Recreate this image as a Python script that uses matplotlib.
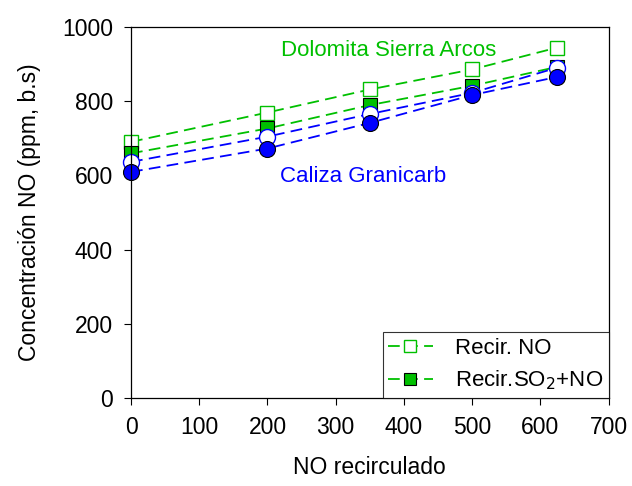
import matplotlib
matplotlib.use("Agg")
import matplotlib.pyplot as plt

plt.rcParams['font.family'] = ['Liberation Sans', 'DejaVu Sans']

x = [0, 200, 350, 500, 625]
dolo_no = [690, 769, 831, 885, 944]
dolo_so2no = [659, 726, 789, 841, 892]
cal_no = [636, 704, 765, 822, 890]
cal_so2no = [609, 672, 741, 816, 865]

green = "#00c000"
blue = "#0000ff"
dash = (0, (6.5, 3.5))

fig = plt.figure(figsize=(6.32, 4.86), dpi=100)
ax = fig.add_axes([0.2073, 0.181, 0.7557, 0.764])

l1, = ax.plot(x, dolo_no, ls=dash, color=green, lw=1.3, marker="s", ms=10,
              mfc="white", mec=green, mew=1.0, label="Recir. NO", clip_on=False)
l2, = ax.plot(x, dolo_so2no, ls=dash, color=green, lw=1.3, marker="s", ms=10,
              mfc=green, mec="black", mew=0.8, label="Recir.SO$_2$+NO", clip_on=False)
ax.plot(x, cal_no, ls=dash, color=blue, lw=1.3, marker="o", ms=11.5,
        mfc="white", mec=blue, mew=1.0, clip_on=False)
ax.plot(x, cal_so2no, ls=dash, color=blue, lw=1.3, marker="o", ms=11.5,
        mfc=blue, mec="black", mew=0.8, clip_on=False)

ax.text(378, 936, "Dolomita Sierra Arcos", color=green, fontsize=16, ha="center", va="center")
ax.text(340, 597, "Caliza Granicarb", color=blue, fontsize=16, ha="center", va="center")

ax.set_xlim(0, 700)
ax.set_ylim(0, 1000)
ax.set_xticks(range(0, 701, 100))
ax.set_yticks(range(0, 1001, 200))
ax.tick_params(direction="out", labelsize=16.5, length=5, width=0.8,
               top=False, right=False, pad=8)
for s in ax.spines.values():
    s.set_linewidth(0.9)
ax.set_xlabel("NO recirculado", fontsize=16.5, labelpad=12)
ax.set_ylabel("Concentración NO (ppm, b.s)", fontsize=16.5, labelpad=15)

leg = ax.legend(handles=[l1, l2], loc="lower right", fontsize=16, frameon=True,
                fancybox=False, edgecolor="black", borderaxespad=0, handlelength=2.0,
                handletextpad=1.0, labelspacing=0.45, borderpad=0.25, markerscale=0.9)
leg.get_frame().set_linewidth(0.8)

fig.savefig("out.png", dpi=100)
